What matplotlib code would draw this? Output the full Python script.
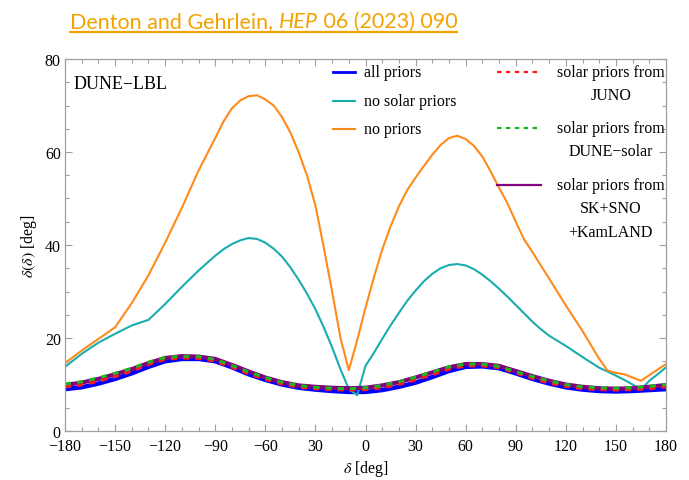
import matplotlib
matplotlib.use("Agg")
import matplotlib.pyplot as plt
from matplotlib.lines import Line2D
from matplotlib.ticker import FixedLocator, FixedFormatter, MultipleLocator

plt.rcParams["font.family"] = "Liberation Serif"
plt.rcParams["mathtext.fontset"] = "stix"

# delta_CP grids (deg)
delta_fine = [-180, -170, -160, -150, -140, -130, -120, -110, -100, -90, -85, -80, -75, -70, -65,
              -60, -55, -50, -45, -40, -35, -30, -25, -20, -15, -10, -5, 0, 5, 10, 15, 20, 25,
              30, 35, 40, 45, 50, 55, 60, 65, 70, 75, 80, 85, 90, 95, 100, 105, 110, 120, 130,
              140, 145, 150, 155, 160, 165, 170, 175, 180]
delta_coarse = list(range(-180, 181, 10))

# precision on delta (deg)
no_priors = [14.6, 17.3, 19.8, 22.3, 27.5, 33.5, 40.5, 48.0, 56.0, 63.0, 66.6, 69.4, 71.1, 72.0, 72.2,
             71.3, 70.0, 67.5, 64.2, 59.9, 54.9, 48.5, 39.5, 30.0, 20.0, 13.1, 19.5, 26.5, 33.0, 39.0,
             44.0, 48.3, 51.8, 54.5, 57.0, 59.4, 61.5, 63.0, 63.5, 62.8, 61.3, 59.0, 55.8, 52.3, 49.0,
             45.0, 41.2, 38.5, 35.6, 32.8, 27.0, 21.5, 15.5, 13.0, 12.5, 12.2, 11.5, 10.8, 12.0, 13.2,
             14.4]
no_solar = [13.8, 16.6, 19.0, 20.9, 22.7, 23.9, 27.3, 31.0, 34.5, 37.7, 39.1, 40.2, 41.0, 41.5, 41.3,
            40.5, 39.2, 37.5, 35.2, 32.5, 29.5, 26.2, 22.3, 18.0, 13.3, 9.0, 7.7, 14.0, 16.8, 19.8,
            22.7, 25.4, 28.0, 30.2, 32.2, 33.8, 35.0, 35.7, 35.9, 35.6, 34.8, 33.6, 32.2, 30.6, 28.9,
            27.1, 25.3, 23.5, 21.9, 20.5, 18.3, 15.9, 13.6, 12.8, 11.9, 11.0, 10.0, 8.9, 10.8, 12.2,
            13.7]
all_priors = [9.0, 9.4, 10.2, 11.2, 12.4, 13.8, 15.0, 15.5, 15.5, 15.0, 13.7, 12.2, 11.0, 10.0, 9.3,
              8.9, 8.6, 8.4, 8.4, 8.8, 9.5, 10.4, 11.6, 12.9, 13.8, 13.9, 13.5, 12.4, 11.2, 10.2,
              9.4, 8.9, 8.6, 8.5, 8.6, 8.8, 9.0]
juno = [9.5, 9.9, 10.7, 11.7, 12.9, 14.3, 15.4, 15.7, 15.6, 15.0, 13.7, 12.3, 11.1, 10.1, 9.4,
        9.1, 8.9, 8.8, 8.9, 9.3, 10.0, 11.0, 12.1, 13.3, 14.0, 14.0, 13.6, 12.5, 11.3, 10.3,
        9.6, 9.1, 8.9, 8.8, 8.9, 9.1, 9.5]
dune_solar = [10.1, 10.6, 11.4, 12.4, 13.5, 14.8, 15.8, 16.1, 16.0, 15.4, 14.1, 12.7, 11.5, 10.5, 9.8,
              9.4, 9.2, 9.1, 9.3, 9.8, 10.6, 11.6, 12.7, 13.8, 14.4, 14.4, 13.9, 12.8, 11.7, 10.8,
              10.0, 9.5, 9.3, 9.2, 9.3, 9.6, 10.0]
sk_sno_kl = [9.9, 10.4, 11.2, 12.2, 13.3, 14.6, 15.7, 16.1, 16.0, 15.5, 14.2, 12.8, 11.5, 10.5, 9.8,
             9.5, 9.3, 9.2, 9.3, 9.8, 10.5, 11.5, 12.6, 13.7, 14.4, 14.4, 14.0, 12.9, 11.8, 10.8,
             10.0, 9.5, 9.2, 9.1, 9.2, 9.5, 9.9]

xtick_vals = list(range(-180, 181, 30))
xtick_text = ["\u2212180", "\u2212150", "\u2212120", "\u221290", "\u221260", "30", "0",
              "30", "60", "90", "120", "150", "180"]

BLUE = "#0000ff"
TEAL = "#1aadad"
ORANGE = "#ff8a1c"
RED = "#ff1a1a"
GREEN = "#1fb51f"
PURPLE = "#800080"
FRAME = "#a0a0a0"
TITLE_COL = "#f3a200"

fig = plt.figure(figsize=(6.89, 4.81), dpi=100)
ax = fig.add_axes([65 / 689, 1 - 432 / 481, 601 / 689, 372 / 481])

ax.plot(delta_coarse, all_priors, color=BLUE, lw=3.2, solid_capstyle="butt")
ax.plot(delta_fine, no_solar, color=TEAL, lw=1.5)
ax.plot(delta_fine, no_priors, color=ORANGE, lw=1.5)
ax.plot(delta_coarse, sk_sno_kl, color=PURPLE, lw=3.0)
ax.plot(delta_coarse, juno, color=RED, lw=2.2, ls=(0, (2, 2)))
ax.plot(delta_coarse, dune_solar, color=GREEN, lw=2.2, ls=(0, (2, 2)))

ax.set_xlim(-180, 180)
ax.set_ylim(0, 80)
ax.xaxis.set_major_locator(FixedLocator(xtick_vals))
ax.xaxis.set_major_formatter(FixedFormatter(xtick_text))
ax.xaxis.set_minor_locator(MultipleLocator(10))
ax.yaxis.set_major_locator(MultipleLocator(20))
ax.yaxis.set_minor_locator(MultipleLocator(5))
ax.tick_params(which="both", direction="in", top=True, right=True, color=FRAME,
               labelsize=11.5)
ax.tick_params(axis="x", pad=5)
ax.tick_params(axis="y", pad=3)
ax.tick_params(which="major", length=5, width=0.8)
ax.tick_params(which="minor", length=3, width=0.8)
for sp in ax.spines.values():
    sp.set_color(FRAME)
    sp.set_linewidth(0.9)

ax.set_xlabel(r"$\delta$ [deg]", fontsize=11.5, labelpad=3)
ax.set_ylabel(r"$\delta(\delta)$ [deg]", fontsize=11.5, labelpad=4)

ax.text(0.015, 0.935, "DUNE\u2212LBL", transform=ax.transAxes, fontsize=13, va="center", ha="left")

# legend keys, Mathematica-style layout
tr = ax.transAxes
fs = 11.5
for y, col, lab in [(0.965, BLUE, "all priors"), (0.887, TEAL, "no solar priors"),
                    (0.812, ORANGE, "no priors")]:
    ax.add_line(Line2D([0.446, 0.4825], [y, y], color=col, lw=2 if col == BLUE else 1.5,
                       transform=tr, clip_on=False))
    ax.text(0.4975, y, lab, transform=tr, fontsize=fs, va="center", ha="left")

right_keys = [(0.965, RED, (0, (2, 2)), ["solar priors from", "JUNO"]),
              (0.815, GREEN, (0, (2, 2)), ["solar priors from", "DUNE\u2212solar"]),
              (0.661, PURPLE, "-", ["solar priors from", "SK+SNO", "+KamLAND"])]
for y, col, ls, lines in right_keys:
    ax.add_line(Line2D([0.719, 0.792], [y, y], color=col, lw=1.6, ls=ls,
                       transform=tr, clip_on=False))
    for k, s in enumerate(lines):
        ax.text(0.908, y - k * 0.0625, s, transform=tr, fontsize=fs, va="center", ha="center")

# title with italic journal name and underline
fig.canvas.draw()
renderer = fig.canvas.get_renderer()
x0 = 70 / 689
yb = 1 - 28 / 481
parts = [("Denton and Gehrlein, ", "normal"), ("HEP", "italic"), (" 06 (2023) 090", "normal")]
xc = x0
for s, style in parts:
    t = fig.text(xc, yb, s, fontsize=15.5, family="Lato", style=style, color=TITLE_COL,
                 va="baseline", ha="left")
    bb = t.get_window_extent(renderer)
    xc += bb.width / fig.bbox.width
fig.add_artist(Line2D([x0, xc], [1 - 32.5 / 481, 1 - 32.5 / 481], color=TITLE_COL, lw=1.6,
                      transform=fig.transFigure))

fig.savefig("out.png", dpi=100)
